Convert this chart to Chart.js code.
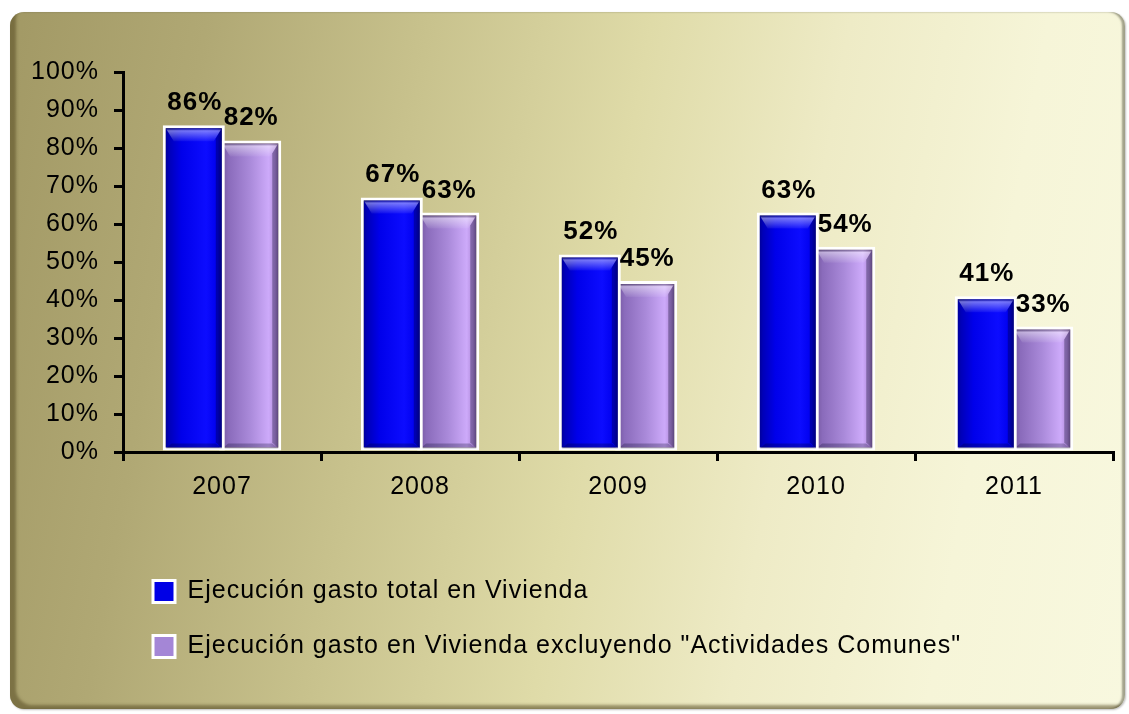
<!DOCTYPE html>
<html>
<head>
<meta charset="utf-8">
<script src="https://cdn.jsdelivr.net/npm/chart.js@4/dist/chart.umd.min.js"></script>
<style>
html,body{margin:0;padding:0;background:#ffffff;width:1129px;height:714px;overflow:hidden;}
#panel{position:absolute;left:10px;top:12px;width:1115px;height:697px;border-radius:14px;
background:linear-gradient(100deg,#a29965 0%,#b0a874 16%,#c8c28d 34%,#dfdba8 52%,#eeebc6 68%,#f6f5d8 84%,#f8f8df 100%);
box-shadow: inset 8px -6px 3px -2px rgba(85,75,35,0.55), inset -3px 0 2px rgba(90,90,70,0.55), 1px 1px 2px rgba(0,0,0,0.25);}
#wrap{position:absolute;left:0;top:0;width:1129px;height:714px;}
</style>
</head>
<body>
<div id="panel"></div>
<div id="wrap"><canvas id="c"></canvas></div>
<script>
// ---- data ----
const categories = ['2007', '2008', '2009', '2010', '2011'];
const totalVivienda = [86, 67, 52, 63, 41];
const sinComunes = [82, 63, 45, 54, 33];
const seriesNames = [
  'Ejecución gasto total en Vivienda',
  'Ejecución gasto en Vivienda excluyendo "Actividades Comunes"'
];
const yMin = 0, yMax = 100, yStep = 10;

// ---- styles ----
const FONT = "'Liberation Sans', Arial, sans-serif";
const solidColors = ['#0000e6', '#a486d6'];
const gradStops = [
  [[0, '#000080'], [0.1, '#0000b8'], [0.3, '#0000ea'], [0.7, '#0c0cff'], [0.88, '#0000ee'], [1, '#000078']],
  [[0, '#6e5296'], [0.15, '#8a6bbb'], [0.5, '#aa8ada'], [0.8, '#cdaafa'], [0.9, '#b08ada'], [1, '#5e4474']]
];

const spacingPlugin = {
  id: 'spacing',
  beforeUpdate(chart) { chart.ctx.letterSpacing = '1px'; },
  beforeDraw(chart) { chart.ctx.letterSpacing = '1px'; }
};

const barShading = {
  id: 'barShading',
  beforeDatasetsDraw(chart) {
    const ctx = chart.ctx;
    chart.data.datasets.forEach((ds, i) => {
      chart.getDatasetMeta(i).data.forEach(bar => {
        const p = bar.getProps(['x', 'width'], true);
        const g = ctx.createLinearGradient(p.x - p.width / 2, 0, p.x + p.width / 2, 0);
        gradStops[i].forEach(s => g.addColorStop(s[0], s[1]));
        try { bar.options.backgroundColor = g; } catch (e) {}
      });
    });
  },
  afterDatasetDraw(chart, args) {
    const ctx = chart.ctx;
    ctx.save();
    args.meta.data.forEach(bar => {
      const p = bar.getProps(['x', 'y', 'base', 'width'], true);
      const l = p.x - p.width / 2 + 3, r = p.x + p.width / 2 - 3;
      const t = p.y + 3, b = p.base - 2;
      const gt = ctx.createLinearGradient(0, t, 0, t + 13);
      gt.addColorStop(0, 'rgba(0,0,0,0.35)');
      gt.addColorStop(0.2, 'rgba(255,255,255,0.45)');
      gt.addColorStop(1, 'rgba(255,255,255,0.05)');
      ctx.fillStyle = gt;
      ctx.beginPath();
      ctx.moveTo(l, t); ctx.lineTo(r, t); ctx.lineTo(r - 8, t + 13); ctx.lineTo(l + 8, t + 13);
      ctx.closePath(); ctx.fill();
      ctx.fillStyle = 'rgba(0,0,30,0.30)';
      ctx.beginPath();
      ctx.moveTo(r, t); ctx.lineTo(r, b); ctx.lineTo(r - 6, b - 6); ctx.lineTo(r - 6, t + 10);
      ctx.closePath(); ctx.fill();
      ctx.fillStyle = 'rgba(0,0,30,0.25)';
      ctx.beginPath();
      ctx.moveTo(l, b); ctx.lineTo(r, b); ctx.lineTo(r - 6, b - 5); ctx.lineTo(l + 6, b - 5);
      ctx.closePath(); ctx.fill();
    });
    ctx.restore();
  },
  afterDatasetsDraw(chart) {
    const ctx = chart.ctx;
    ctx.save();
    ctx.font = 'bold 26px ' + FONT;
    ctx.fillStyle = '#000000';
    ctx.textAlign = 'center';
    ctx.textBaseline = 'alphabetic';
    chart.data.datasets.forEach((ds, i) => {
      chart.getDatasetMeta(i).data.forEach((bar, j) => {
        const p = bar.getProps(['x', 'y'], true);
        ctx.fillText(ds.data[j] + '%', p.x + 1, p.y - 15);
      });
    });
    ctx.restore();
  }
};

new Chart(document.getElementById('c'), {
  type: 'bar',
  data: {
    labels: categories,
    datasets: [
      { label: seriesNames[0], data: totalVivienda, backgroundColor: () => solidColors[0],
        borderColor: '#ffffff', borderWidth: 3, borderSkipped: false,
        categoryPercentage: 0.57, barPercentage: 1.1 },
      { label: seriesNames[1], data: sinComunes, backgroundColor: () => solidColors[1],
        borderColor: '#ffffff', borderWidth: 3, borderSkipped: false,
        categoryPercentage: 0.57, barPercentage: 1.1 }
    ]
  },
  options: {
    responsive: true,
    maintainAspectRatio: false,
    animation: false,
    layout: { padding: { left: 0, right: 16, top: 72, bottom: 45 } },
    scales: {
      x: {
        grid: { display: true, offset: true, drawOnChartArea: false, drawTicks: true,
                tickLength: 9, color: '#000000', lineWidth: 3 },
        border: { display: true, color: '#000000', width: 3 },
        ticks: { color: '#000000', font: { family: FONT, size: 25 }, padding: 11 },
        afterFit: s => { s.height = 97; }
      },
      y: {
        min: yMin, max: yMax,
        ticks: { stepSize: yStep, callback: v => v + '%', color: '#000000',
                 font: { family: FONT, size: 25 }, padding: 15 },
        grid: { drawOnChartArea: false, drawTicks: true, tickLength: 9, color: '#000000', lineWidth: 3 },
        border: { display: true, color: '#000000', width: 3 },
        afterFit: s => { s.width = 123; }
      }
    },
    plugins: {
      legend: {
        position: 'bottom', align: 'start', fullSize: false,
        labels: { color: '#000000', font: { family: FONT, size: 25 },
                  boxWidth: 22, boxHeight: 22, padding: 30 }
      },
      tooltip: { enabled: false }
    }
  },
  plugins: [spacingPlugin, barShading]
});
</script>
</body>
</html>
